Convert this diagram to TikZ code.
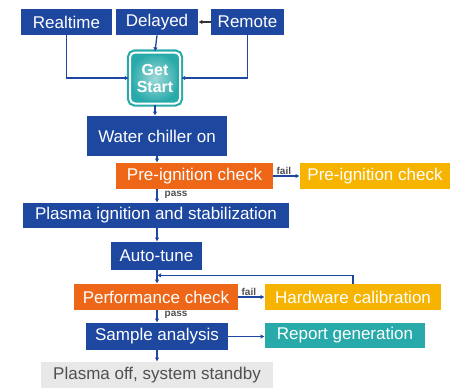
\documentclass[tikz,border=0pt]{standalone}
\usepackage{fontspec}
\setmainfont{Liberation Sans}
\usetikzlibrary{arrows.meta,positioning,calc}
\definecolor{flowblue}{RGB}{30,72,160}
\definecolor{floworange}{RGB}{238,102,24}
\definecolor{flowyellow}{RGB}{246,180,0}
\definecolor{flowteal}{RGB}{40,170,170}
\definecolor{flowgray}{RGB}{232,232,232}
\definecolor{flowtext}{RGB}{80,80,80}
\tikzset{
  every picture/.style={line width=0.75pt},
  box/.style={inner sep=0pt, text=white, font=\fontsize{17}{19}\selectfont},
  bluebox/.style={box, fill=flowblue},
  orangebox/.style={box, fill=floworange},
  yellowbox/.style={box, fill=flowyellow},
  tealbox/.style={box, fill=flowteal},
  graybox/.style={box, fill=flowgray, text=flowtext},
  flow/.style={draw=flowblue, line width=1.3pt, -{Latex[length=4pt,width=4.5pt]}},
  tag/.style={font=\bfseries\fontsize{10}{11}\selectfont, text=flowtext, inner sep=1pt}
}

\begin{document}
\begin{tikzpicture}[x=1pt,y=-1pt]
    \useasboundingbox (0,0) rectangle (453,388);

    % trigger modes
    \node[bluebox, minimum width=91pt, minimum height=26pt] (realtime) at (66.5,22) {Realtime};
    \node[bluebox, minimum width=82pt, minimum height=26pt] (delayed) at (157,22) {Delayed};
    \node[bluebox, minimum width=73pt, minimum height=26pt] (remote) at (247.5,22) {Remote};

    % start button
    \node[draw=flowteal, double=white, double distance=2pt, line width=2.2pt,
          rounded corners=5pt, inner color=flowteal!45, outer color=flowteal,
          minimum width=50pt, minimum height=51pt, inner sep=0pt, text=white,
          align=center, font=\bfseries\fontsize{16}{17}\selectfont] (start) at (155,78) {Get\\Start};

    % main sequence
    \node[bluebox, minimum width=140pt, minimum height=40pt] (chiller) at (157,136) {Water chiller on};
    \node[orangebox, minimum width=157pt, minimum height=26pt] (precheck) at (194.5,176) {Pre-ignition check};
    \node[yellowbox, minimum width=150pt, minimum height=26pt] (prefail) at (375,176) {Pre-ignition check};
    \node[bluebox, minimum width=266pt, minimum height=25pt] (ignition) at (156,215.5) {Plasma ignition and stabilization};
    \node[bluebox, minimum width=91pt, minimum height=28pt] (autotune) at (156.5,256) {Auto-tune};
    \node[orangebox, minimum width=164pt, minimum height=26pt] (perfcheck) at (156,297) {Performance check};
    \node[yellowbox, minimum width=176pt, minimum height=26pt] (hwcal) at (353,297) {Hardware calibration};
    \node[bluebox, minimum width=142pt, minimum height=27pt] (sample) at (157,336.5) {Sample analysis};
    \node[tealbox, minimum width=160pt, minimum height=25pt] (report) at (345,335.5) {Report generation};
    \node[graybox, minimum width=232pt, minimum height=26pt] (standby) at (157,375) {Plasma off, system standby};

    % inputs to start
    \draw[flow] (realtime.south) |- (start.west);
    \draw[flow] (remote.south) |- (start.east);
    \draw[flow, draw=black!80] (remote.west) -- (delayed.east);
    \draw[flow] (delayed.south) -- (start.north);

    % checks and steps
    \draw[flow] (start.south) -- (start.south |- chiller.north);
    \draw[flow] (chiller.south) -- (chiller.south |- precheck.north);
    \draw[flow] (precheck.east) -- node[tag, above, pos=0.4] {fail} (prefail.west);
    \draw[flow] (chiller.south |- precheck.south) -- node[tag, right=6pt, pos=0.4] {pass} (chiller.south |- ignition.north);
    \draw[flow] (chiller.south |- ignition.south) -- (chiller.south |- autotune.north);
    \draw[flow] (chiller.south |- autotune.south) -- (chiller.south |- perfcheck.north);
    \draw[flow] (perfcheck.east) -- node[tag, above, pos=0.4] {fail} (hwcal.west);
    \coordinate (loop) at ($(chiller.south |- autotune.south)+(0,5)$);
    \draw[flow] (hwcal.north) |- (loop);
    \draw[flow] (chiller.south |- perfcheck.south) -- node[tag, right=6pt, pos=0.4] {pass} (chiller.south |- sample.north);
    \draw[flow] (sample.east) -- (sample.east -| report.west);
    \draw[flow] (sample.south) -- (standby.north);
\end{tikzpicture}
\end{document}
